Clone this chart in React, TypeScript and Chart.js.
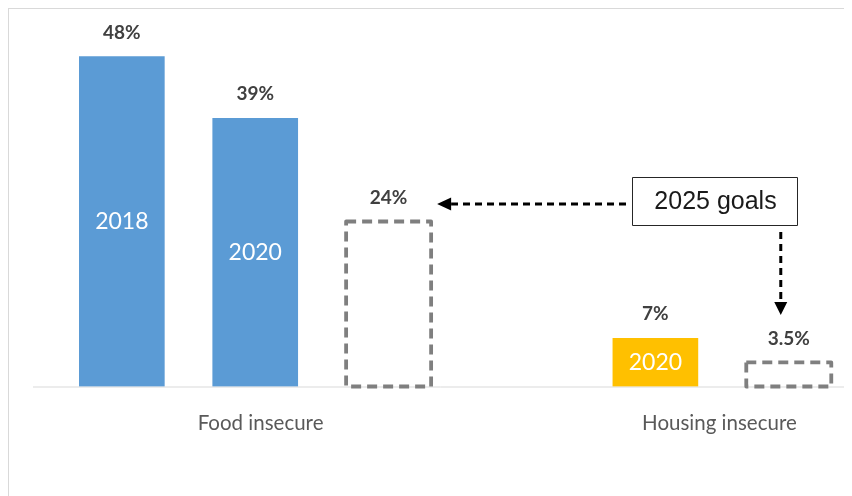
import React, { useEffect, useRef } from "react";
import { Chart, registerables } from "chart.js";

Chart.register(...registerables);

// ---- Data ----
const categories = ["Food insecure", "Housing insecure"];
const foodYears = ["2018", "2020"];
const foodValues = [48, 39];
const housingYears = ["2020"];
const housingValues = [7];
const goalValues = [24, 3.5]; // 2025 goals: food, housing
const goalTitle = "2025 goals";

// slot layout: food bars 0,1 ; food goal 2 ; (gap) ; housing bar 4 ; housing goal 5
const foodStart = 0;
const housingStart = 4;
const groupCenters = [1.04, 4.48];

const BLUE = "#5B9BD5";
const GOLD = "#FFC000";
const GRAY = "#7F7F7F";
const FONT = "Lato, 'Open Sans', sans-serif";

const fmt = (v: number) => `${v}%`;

const overlay = {
  id: "overlay",
  beforeDatasetsDraw(chart: any) {
    const { ctx, chartArea } = chart;
    ctx.save();
    ctx.strokeStyle = "#D9D9D9";
    ctx.lineWidth = 1;
    ctx.beginPath();
    ctx.moveTo(chartArea.left, chartArea.bottom + 0.5);
    ctx.lineTo(chartArea.right, chartArea.bottom + 0.5);
    ctx.stroke();
    ctx.restore();
  },
  afterDatasetsDraw(chart: any) {
    const { ctx, chartArea, scales } = chart;
    ctx.save();
    // dashed goal boxes
    const goalMeta = chart.getDatasetMeta(2);
    goalMeta.data.forEach((bar: any) => {
      const { x, y, base, width } = bar.getProps(["x", "y", "base", "width"], true);
      ctx.strokeStyle = GRAY;
      ctx.lineWidth = 3.8;
      ctx.setLineDash([10, 6]);
      ctx.lineJoin = "round";
      ctx.strokeRect(x - width / 2, y, width, base - y);
    });
    ctx.setLineDash([]);

    // value labels above bars
    ctx.fillStyle = "#404040";
    ctx.font = `bold 19px ${FONT}`;
    ctx.textAlign = "center";
    ctx.textBaseline = "middle";
    chart.data.datasets.forEach((ds: any, di: number) => {
      const meta = chart.getDatasetMeta(di);
      meta.data.forEach((bar: any, i: number) => {
        const { x, y } = bar.getProps(["x", "y"], true);
        ctx.fillText(fmt(ds.data[i].y), x, y - 24);
      });
    });

    // inside year labels
    ctx.fillStyle = "#FFFFFF";
    ctx.font = `23px ${FONT}`;
    [0, 1].forEach((di) => {
      const ds = chart.data.datasets[di];
      const meta = chart.getDatasetMeta(di);
      meta.data.forEach((bar: any, i: number) => {
        const { x, y, base } = bar.getProps(["x", "y", "base"], true);
        ctx.fillText(ds.years[i], x, (y + base) / 2);
      });
    });

    // category labels
    ctx.fillStyle = "#595959";
    ctx.font = `20.5px ${FONT}`;
    categories.forEach((c, i) => {
      ctx.fillText(c, scales.x.getPixelForValue(groupCenters[i]), chartArea.bottom + 37);
    });

    // annotation box
    const foodGoal = goalMeta.data[0].getProps(["x", "y", "width"], true);
    const housingGoal = goalMeta.data[1].getProps(["x", "y", "width"], true);
    const bx = 623, by = 168, bw = 165, bh = 48;
    ctx.fillStyle = "#FFFFFF";
    ctx.fillRect(bx, by, bw, bh);
    ctx.strokeStyle = "#262626";
    ctx.lineWidth = 1;
    ctx.strokeRect(bx + 0.5, by + 0.5, bw, bh);
    ctx.fillStyle = "#1A1A1A";
    ctx.font = `25px 'Liberation Sans', Arial, sans-serif`;
    ctx.fillText(goalTitle, bx + bw / 2 + 1, by + bh / 2 + 1);

    // horizontal arrow to food goal
    const tipX = foodGoal.x + foodGoal.width / 2 + 6;
    const ay = 195;
    ctx.strokeStyle = "#000000";
    ctx.lineWidth = 3;
    ctx.setLineDash([7, 5]);
    ctx.beginPath();
    ctx.moveTo(bx - 6, ay);
    ctx.lineTo(tipX + 14, ay);
    ctx.stroke();
    ctx.setLineDash([]);
    ctx.fillStyle = "#000000";
    ctx.beginPath();
    ctx.moveTo(tipX, ay);
    ctx.lineTo(tipX + 14, ay - 6.5);
    ctx.lineTo(tipX + 14, ay + 6.5);
    ctx.closePath();
    ctx.fill();

    // vertical arrow to housing goal
    const vx = housingGoal.x - 8;
    const tipY = 306;
    ctx.setLineDash([7, 5]);
    ctx.beginPath();
    ctx.moveTo(vx, by + bh + 7);
    ctx.lineTo(vx, tipY - 13);
    ctx.stroke();
    ctx.setLineDash([]);
    ctx.beginPath();
    ctx.moveTo(vx, tipY);
    ctx.lineTo(vx - 6.5, tipY - 13);
    ctx.lineTo(vx + 6.5, tipY - 13);
    ctx.closePath();
    ctx.fill();

    ctx.restore();
  },
};

export default function App() {
  const ref = useRef<HTMLCanvasElement>(null);
  useEffect(() => {
    if (!ref.current) return;
    const chart = new Chart(ref.current, {
      type: "bar",
      data: {
        datasets: [
          {
            label: "Food insecure",
            years: foodYears,
            data: foodValues.map((v, i) => ({ x: foodStart + i, y: v })),
            backgroundColor: BLUE,
            borderWidth: 0,
            barThickness: 85,
            grouped: false,
          } as any,
          {
            label: "Housing insecure",
            years: housingYears,
            data: housingValues.map((v, i) => ({ x: housingStart + i, y: v })),
            backgroundColor: GOLD,
            borderWidth: 0,
            barThickness: 85,
            grouped: false,
          } as any,
          {
            label: goalTitle,
            data: [
              { x: foodStart + foodValues.length, y: goalValues[0] },
              { x: housingStart + housingValues.length, y: goalValues[1] },
            ],
            backgroundColor: "rgba(0,0,0,0)",
            borderWidth: 0,
            barThickness: 85,
            grouped: false,
          } as any,
        ],
      },
      options: {
        responsive: false,
        animation: false,
        devicePixelRatio: 1,
        layout: { padding: { left: 24, right: 4, top: 10, bottom: 109.5 } },
        plugins: { legend: { display: false }, tooltip: { enabled: false } },
        scales: {
          x: { type: "linear", min: -0.666, max: 5.444, offset: false, display: false },
          y: { min: 0, max: 53.45, display: false },
        },
      },
      plugins: [overlay],
    });
    return () => chart.destroy();
  }, []);
  return (
    <div
      style={{
        width: 844,
        height: 488,
        boxSizing: "border-box",
        borderTop: "1px solid #D9D9D9",
        borderLeft: "1px solid #D9D9D9",
        overflow: "hidden",
      }}
    >
      <canvas ref={ref} width={843} height={487} style={{ display: "block" }} />
    </div>
  );
}
